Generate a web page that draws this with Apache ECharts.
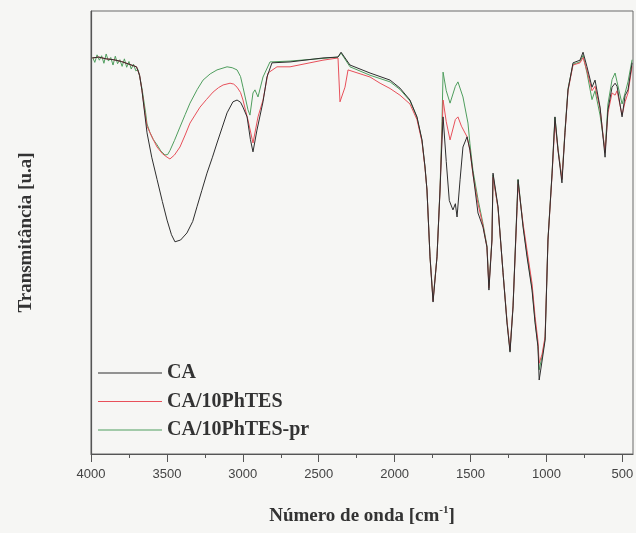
<!DOCTYPE html>
<html>
<head>
<meta charset="utf-8">
<script src="https://cdn.jsdelivr.net/npm/echarts@6/dist/echarts.min.js"></script>
<style>
  html, body { margin: 0; padding: 0; background: #f6f6f4; }
  #chart { width: 636px; height: 533px; }
</style>
</head>
<body>
<div id="chart"></div>
<script>
// wavenumber [cm-1], transmittance [u.a]
const seriesNames = ['CA', 'CA/10PhTES', 'CA/10PhTES-pr']
const labelTicks = [4000, 3500, 3000, 2500, 2000, 1500, 1000, 500]
const minorTicks = [3750, 3250, 2750, 2250, 1750, 1250, 750]

const caData = [
    [3990, 89.4], [3950, 89.6], [3900, 89.2], [3850, 89.0], [3800, 88.6], [3750, 88.0], [3700, 87.4],
    [3680, 85.5], [3664, 82.0], [3645, 76.5], [3631, 72.5], [3600, 67.0], [3565, 62.0], [3530, 57.0],
    [3499, 52.8], [3470, 49.5], [3447, 47.9], [3410, 48.3], [3368, 49.9], [3330, 52.5], [3302, 55.8],
    [3270, 59.5], [3236, 63.4], [3200, 67.0], [3170, 70.2], [3135, 73.8], [3104, 77.0], [3065, 79.5],
    [3038, 79.9], [3015, 79.4], [2999, 78.3], [2972, 76.1], [2950, 71.0], [2933, 68.2], [2907, 73.1],
    [2867, 79.5], [2841, 85.1], [2808, 88.3], [2689, 88.5], [2472, 89.4], [2373, 89.6], [2353, 90.7],
    [2294, 87.8], [2162, 86.0], [2030, 84.4], [1965, 82.6], [1899, 79.9], [1853, 76.1], [1820, 70.9],
    [1800, 64.8], [1787, 59.6], [1767, 44.5], [1747, 34.3], [1721, 44.5], [1701, 59.6], [1688, 70.9],
    [1681, 76.1], [1660, 66.0], [1640, 57.2], [1616, 55.1], [1600, 56.5], [1589, 53.5], [1569, 61.9],
    [1550, 69.3], [1523, 71.6], [1504, 68.6], [1484, 63.4], [1451, 54.4], [1418, 51.2], [1392, 46.7],
    [1379, 37.0], [1359, 48.3], [1352, 63.4], [1319, 55.8], [1286, 40.9], [1260, 29.6], [1240, 23.0],
    [1220, 33.2], [1194, 55.8], [1187, 61.9], [1154, 51.2], [1128, 44.5], [1095, 37.0], [1075, 29.6],
    [1056, 24.2], [1048, 16.7], [1029, 21.0], [1009, 25.7], [990, 48.3], [963, 63.4], [944, 76.1],
    [924, 68.6], [898, 61.2], [878, 72.5], [858, 82.2], [825, 88.3], [779, 88.9], [759, 90.7],
    [733, 87.4], [700, 82.8], [680, 84.4], [647, 78.3], [614, 67.0], [595, 77.7], [568, 82.8],
    [548, 83.7], [535, 83.0], [502, 76.1], [482, 80.9], [463, 82.2], [436, 88.3]
]

const phtesData = [
    [3990, 89.4], [3950, 89.6], [3900, 89.2], [3850, 89.0], [3800, 88.6], [3750, 88.0], [3700, 87.4],
    [3680, 85.5], [3664, 82.0], [3645, 77.0], [3631, 74.0], [3611, 72.5], [3590, 71.0], [3565, 69.3],
    [3530, 67.8], [3499, 67.0], [3480, 66.6], [3450, 67.5], [3414, 69.3], [3380, 72.0], [3348, 74.7],
    [3315, 76.5], [3282, 78.3], [3240, 80.0], [3196, 81.7], [3160, 82.7], [3130, 83.3], [3084, 83.7],
    [3060, 83.5], [3038, 82.8], [3015, 81.6], [2999, 79.9], [2966, 75.4], [2933, 70.2], [2900, 76.1],
    [2867, 79.9], [2834, 86.0], [2775, 87.4], [2689, 87.4], [2472, 88.9], [2373, 89.4], [2360, 79.5],
    [2327, 82.8], [2307, 86.7], [2162, 85.1], [2096, 83.7], [2030, 82.5], [1965, 81.0], [1899, 79.0],
    [1853, 75.5], [1820, 70.5], [1800, 64.5], [1787, 59.6], [1767, 44.5], [1747, 34.5], [1721, 44.5],
    [1701, 59.6], [1688, 72.0], [1681, 79.9], [1660, 75.0], [1635, 70.9], [1600, 75.5], [1583, 76.1],
    [1560, 74.0], [1523, 71.6], [1504, 68.6], [1484, 63.0], [1451, 56.5], [1418, 51.5], [1392, 46.7],
    [1379, 37.5], [1359, 48.3], [1352, 62.5], [1319, 55.5], [1286, 40.9], [1260, 30.0], [1240, 23.5],
    [1220, 33.5], [1194, 55.0], [1187, 61.0], [1154, 52.0], [1128, 46.0], [1095, 38.5], [1075, 31.0],
    [1056, 25.5], [1048, 20.5], [1029, 22.5], [1009, 26.5], [990, 48.3], [963, 63.0], [944, 75.0],
    [924, 68.6], [898, 62.0], [878, 72.5], [858, 82.0], [825, 87.8], [779, 88.3], [759, 89.5],
    [733, 86.5], [700, 82.0], [680, 83.0], [647, 78.0], [614, 68.0], [595, 77.0], [568, 81.5],
    [548, 81.0], [535, 82.0], [502, 76.5], [482, 79.5], [463, 81.5], [436, 87.5]
]

const phtesPrData = [
    [3990, 89.6], [3975, 88.4], [3960, 90.1], [3945, 88.9], [3930, 89.9], [3915, 88.2], [3900, 90.3],
    [3885, 88.7], [3870, 89.5], [3855, 87.8], [3840, 89.8], [3825, 88.1], [3810, 89.0], [3795, 87.5],
    [3780, 89.2], [3765, 87.3], [3750, 88.6], [3735, 86.9], [3720, 88.0], [3705, 86.5], [3690, 86.8],
    [3677, 84.8], [3664, 82.5], [3640, 77.0], [3631, 74.5], [3611, 72.5], [3590, 71.0], [3565, 69.8],
    [3540, 68.4], [3513, 67.5], [3495, 67.6], [3480, 68.5], [3450, 70.8], [3414, 73.8], [3380, 76.6],
    [3348, 79.2], [3300, 82.3], [3262, 84.4], [3215, 85.8], [3170, 86.7], [3104, 87.4], [3070, 87.2],
    [3038, 86.7], [3015, 85.2], [2999, 82.8], [2966, 77.7], [2953, 76.5], [2933, 81.5], [2920, 82.2],
    [2900, 80.6], [2867, 85.1], [2821, 88.5], [2689, 88.7], [2472, 89.3], [2373, 89.6], [2353, 90.5],
    [2294, 87.4], [2162, 85.5], [2030, 84.0], [1965, 82.3], [1899, 79.7], [1853, 76.0], [1820, 70.8],
    [1800, 64.8], [1787, 59.6], [1767, 44.5], [1747, 34.8], [1721, 44.5], [1701, 60.0], [1688, 75.0],
    [1681, 86.2], [1660, 82.0], [1635, 79.2], [1600, 83.0], [1583, 84.0], [1550, 80.6], [1517, 74.7],
    [1504, 70.0], [1484, 64.0], [1451, 57.5], [1418, 52.0], [1392, 47.0], [1379, 38.0], [1359, 48.5],
    [1352, 63.0], [1319, 55.5], [1286, 41.0], [1260, 30.0], [1240, 23.3], [1220, 33.5], [1194, 56.0],
    [1187, 62.0], [1154, 51.5], [1128, 45.0], [1095, 37.5], [1075, 30.0], [1056, 24.5], [1048, 19.0],
    [1029, 22.0], [1009, 26.0], [990, 48.5], [963, 63.5], [944, 76.0], [924, 69.0], [898, 62.0],
    [878, 73.0], [858, 82.5], [825, 88.0], [779, 88.5], [759, 90.0], [733, 86.0], [700, 80.0],
    [680, 82.0], [647, 76.5], [614, 68.5], [595, 79.0], [568, 84.5], [548, 86.0], [535, 84.0],
    [502, 79.0], [482, 81.5], [463, 84.0], [436, 89.0]
]

const colors = ['#2e2e2e', '#e8505a', '#4f9e5e']

const chart = echarts.init(document.getElementById('chart'))

const serif = 'Liberation Serif'
const sans = 'Liberation Sans'

const option = {
    backgroundColor: '#f6f6f4',
    animation: false,
    color: colors,
    grid: {
        left: 91,
        top: 11,
        right: 3,
        bottom: 79,
        show: true,
        borderColor: '#6a6a6a',
        borderWidth: 1,
        outerBoundsMode: 'none'
    },
    legend: {
        orient: 'vertical',
        left: 93,
        top: 358,
        icon: 'rect',
        itemWidth: 64,
        itemHeight: 1.2,
        itemGap: 8.5,
        textStyle: {
            fontFamily: serif,
            fontWeight: 'bold',
            fontSize: 20,
            color: '#333',
            lineHeight: 20
        },
        data: seriesNames
    },
    xAxis: [
        {
            type: 'value',
            inverse: true,
            min: 430,
            max: 4000,
            name: 'Número de onda [cm{sup|-1}]',
            nameLocation: 'middle',
            nameGap: 51,
            nameTextStyle: {
                fontFamily: serif,
                fontWeight: 'bold',
                fontSize: 19,
                color: '#333',
                rich: {
                    sup: {
                        fontFamily: serif,
                        fontWeight: 'bold',
                        fontSize: 11,
                        color: '#333',
                        padding: [0, 0, 12, 0]
                    }
                }
            },
            axisLine: { lineStyle: { color: '#555', width: 1.2 } },
            axisTick: {
                show: true,
                inside: false,
                length: 8,
                customValues: labelTicks,
                lineStyle: { color: '#555' }
            },
            axisLabel: {
                customValues: labelTicks,
                formatter: (v) => String(v),
                margin: 14,
                fontFamily: sans,
                fontSize: 13,
                color: '#444'
            },
            splitLine: { show: false }
        },
        {
            type: 'value',
            inverse: true,
            min: 430,
            max: 4000,
            position: 'bottom',
            axisLine: { show: false },
            axisTick: {
                show: true,
                length: 4,
                customValues: minorTicks,
                lineStyle: { color: '#555' }
            },
            axisLabel: { show: false },
            splitLine: { show: false }
        }
    ],
    yAxis: {
        type: 'value',
        min: 0,
        max: 100,
        name: 'Transmitância [u.a]',
        nameLocation: 'middle',
        nameGap: 55,
        nameTextStyle: {
            fontFamily: serif,
            fontWeight: 'bold',
            fontSize: 19,
            color: '#333'
        },
        axisLine: { show: true, lineStyle: { color: '#555', width: 1.2 } },
        axisTick: { show: false },
        axisLabel: { show: false },
        splitLine: { show: false }
    },
    series: [
        { name: seriesNames[0], data: caData },
        { name: seriesNames[1], data: phtesData },
        { name: seriesNames[2], data: phtesPrData }
    ].map((s, i) => ({
        type: 'line',
        name: s.name,
        data: s.data,
        z: 3 - i,
        showSymbol: false,
        symbol: 'none',
        lineStyle: { width: 1, color: colors[i] },
        itemStyle: { color: colors[i] }
    }))
}

chart.setOption(option)
</script>
</body>
</html>
